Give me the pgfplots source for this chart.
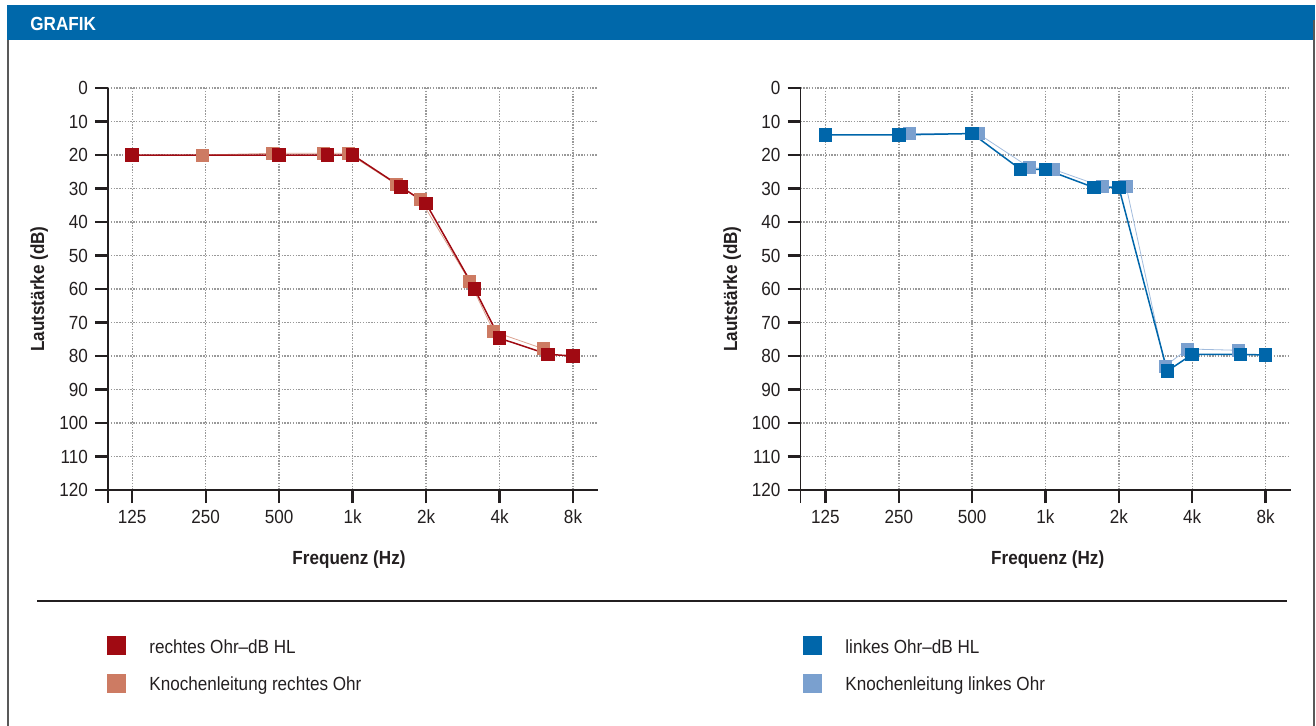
\documentclass[border=0pt]{standalone}
\usepackage{fontspec}
\setmainfont[FakeStretch=0.9]{Liberation Sans}
\usepackage{pgfplots}
\pgfplotsset{compat=1.18}
\definecolor{hdrblue}{RGB}{0,104,170}
\definecolor{airred}{RGB}{160,10,18}
\definecolor{bonered}{RGB}{205,123,99}
\definecolor{airblue}{RGB}{0,102,170}
\definecolor{boneblue}{RGB}{122,160,207}
\definecolor{txt}{RGB}{35,31,32}
\newcommand{\fs}{\fontsize{9.5}{11}\selectfont}

\pgfplotsset{
  audio/.style={
    scale only axis, width=245pt, height=201pt,
    anchor=center,
    y dir=reverse, ymin=0, ymax=120, ytick={0,10,...,120},
    xtick={0,...,6}, xticklabels={125,250,500,1k,2k,4k,8k},
    xmax=6.34,
    axis x line*=bottom, axis y line*=left,
    axis line style={line width=0.75pt, color=txt},
    tick align=outside, major tick length=6.5pt,
    major tick style={line width=1.2pt, color=txt},
    grid=major,
    major grid style={line width=0.7pt, color=black!40, dash pattern=on 0.7pt off 0.7pt},
    tick label style={font=\fs, color=txt},
    /pgf/number format/assume math mode=true,
    clip=false,
  },
}

\pgfplotstableread{
x y
0.96 20
1.91 19.5
2.60 19.5
2.94 19.5
3.59 28.7
3.92 33.2
4.59 57.6
4.92 72.7
5.59 77.8
}\boneright
\pgfplotstableread{
x y
0 20
2 20
2.66 20
3 20
3.66 29.5
4 34.5
4.66 60
5 74.7
5.66 79.5
6 80
}\airright
\pgfplotstableread{
x y
1.14 13.6
2.08 13.6
2.78 23.7
3.11 24.3
3.77 29.4
4.10 29.4
4.63 83.0
4.94 77.9
5.63 78.3
}\boneleft
\pgfplotstableread{
x y
0 14
1 14
2 13.6
2.66 24.3
3 24.3
3.66 29.7
4 29.7
4.66 84.5
5 79.5
5.66 79.5
6 79.7
}\airleft

\begin{document}
\begin{tikzpicture}
\path[use as bounding box] (0,0) rectangle (658pt,-363pt);
\fill[hdrblue] (3.5pt,-2.5pt) rectangle (657.5pt,-20pt);
\node[anchor=base west, text=white, font=\fs\bfseries, inner sep=0pt] at (15pt,-15.25pt) {GRAFIK};
\draw[line width=1pt, black!65] (4pt,-20pt) -- (4pt,-363pt);
\draw[line width=1pt, black!65] (656.75pt,-10pt) -- (656.75pt,-363pt);
\draw[line width=1pt, txt] (18.5pt,-300.5pt) -- (643.5pt,-300.5pt);

% left chart: right ear
\begin{axis}[audio, at={(176.5pt,-144.5pt)}, xmin=-0.33]
 \addplot[bonered!70, line width=0.4pt, mark=square*, mark size=3pt, mark options={bonered}] table {\boneright};
 \addplot[airred, line width=0.75pt, mark=square*, mark size=3pt] table {\airright};
 \draw[line width=0.75pt, txt] (axis cs:-0.33,120) -- ++(0pt,-6.5pt);
\end{axis}
\node[rotate=90, anchor=base, font=\fs\bfseries, text=txt, inner sep=0pt] at (22pt,-144.5pt) {Lautstärke (dB)};
\node[anchor=base, font=\fs\bfseries, text=txt, inner sep=0pt] at (174.5pt,-282pt) {Frequenz (Hz)};

% right chart: left ear
\begin{axis}[audio, at={(522.75pt,-144.5pt)}, xmin=-0.34]
 \addplot[boneblue!70, line width=0.4pt, mark=square*, mark size=3pt, mark options={boneblue}] table {\boneleft};
 \addplot[airblue, line width=0.75pt, mark=square*, mark size=3pt] table {\airleft};
 \draw[line width=0.75pt, txt] (axis cs:-0.34,120) -- ++(0pt,-6.5pt);
\end{axis}
\node[rotate=90, anchor=base, font=\fs\bfseries, text=txt, inner sep=0pt] at (368.5pt,-144.5pt) {Lautstärke (dB)};
\node[anchor=base, font=\fs\bfseries, text=txt, inner sep=0pt] at (523.85pt,-282pt) {Frequenz (Hz)};

% legends
\fill[airred] (53.5pt,-318pt) rectangle (63pt,-327.5pt);
\fill[bonered] (53.5pt,-337pt) rectangle (63pt,-346.5pt);
\node[anchor=base west, font=\fs, text=txt, inner sep=0pt] at (74.5pt,-326.65pt) {rechtes Ohr–dB HL};
\node[anchor=base west, font=\fs, text=txt, inner sep=0pt] at (74.5pt,-345.35pt) {Knochenleitung rechtes Ohr};
\fill[airblue] (401.5pt,-318pt) rectangle (411pt,-327.5pt);
\fill[boneblue] (401.5pt,-337pt) rectangle (411pt,-346.5pt);
\node[anchor=base west, font=\fs, text=txt, inner sep=0pt] at (422.5pt,-326.65pt) {linkes Ohr–dB HL};
\node[anchor=base west, font=\fs, text=txt, inner sep=0pt] at (422.5pt,-345.35pt) {Knochenleitung linkes Ohr};
\end{tikzpicture}
\end{document}
